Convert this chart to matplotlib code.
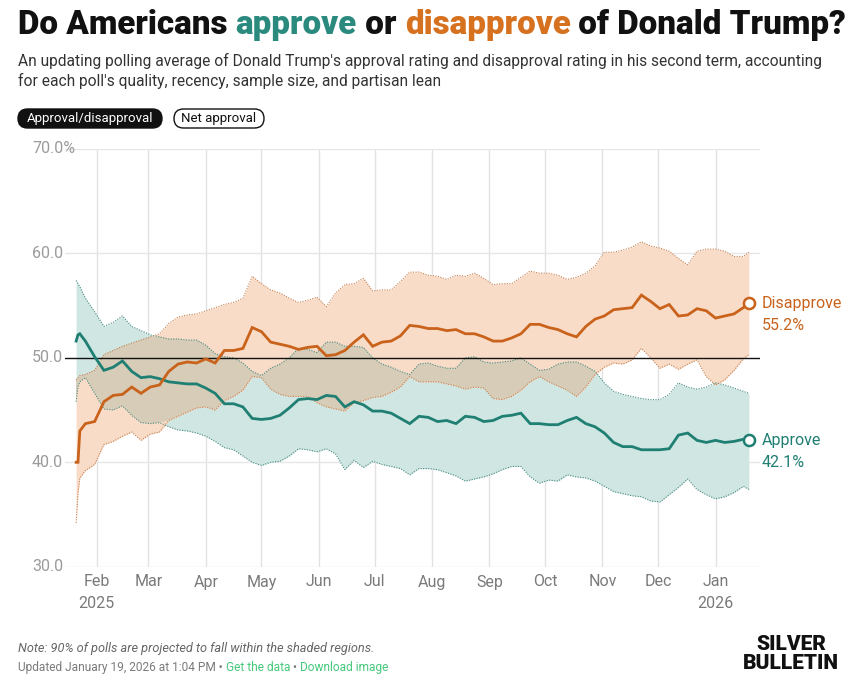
import matplotlib
matplotlib.use("Agg")
import matplotlib.pyplot as plt
import matplotlib.dates as mdates
import matplotlib.transforms as mtransforms
from matplotlib.patches import FancyBboxPatch
from datetime import datetime
import numpy as np

# polling average (every ~5 days)
dates = ["2025-01-21", "2025-01-22", "2025-01-23", "2025-01-26", "2025-01-31",
         "2025-02-05", "2025-02-10", "2025-02-15", "2025-02-20", "2025-02-25",
         "2025-03-02", "2025-03-07", "2025-03-12", "2025-03-17", "2025-03-22", "2025-03-27",
         "2025-04-01", "2025-04-06", "2025-04-11", "2025-04-16", "2025-04-21", "2025-04-26",
         "2025-05-01", "2025-05-06", "2025-05-11", "2025-05-16", "2025-05-21", "2025-05-26", "2025-05-31",
         "2025-06-05", "2025-06-10", "2025-06-15", "2025-06-20", "2025-06-25", "2025-06-30",
         "2025-07-05", "2025-07-10", "2025-07-15", "2025-07-20", "2025-07-25", "2025-07-30",
         "2025-08-04", "2025-08-09", "2025-08-14", "2025-08-19", "2025-08-24", "2025-08-29",
         "2025-09-03", "2025-09-08", "2025-09-13", "2025-09-18", "2025-09-23", "2025-09-28",
         "2025-10-03", "2025-10-08", "2025-10-13", "2025-10-18", "2025-10-23", "2025-10-28",
         "2025-11-02", "2025-11-07", "2025-11-12", "2025-11-17", "2025-11-22", "2025-11-27",
         "2025-12-02", "2025-12-07", "2025-12-12", "2025-12-17", "2025-12-22", "2025-12-27",
         "2026-01-01", "2026-01-06", "2026-01-11", "2026-01-16", "2026-01-19"]

disapprove = [40.0, 40.0, 43.0, 43.7, 43.9,
              45.8, 46.4, 46.5, 47.2, 46.6, 47.2, 47.4, 48.7, 49.4, 49.6, 49.5, 49.9, 49.5, 50.7, 50.7,
              50.9, 52.9, 52.5, 51.5, 51.3, 51.1,
              50.8, 51.0, 51.1, 50.2, 50.3, 50.7, 51.5, 52.2, 51.1, 51.5, 51.6, 52.1, 53.1, 53.0, 52.8,
              52.8, 52.6, 52.7, 52.3, 52.3, 52.0, 51.6, 51.6, 51.9, 52.3,
              53.2, 53.2, 52.9, 52.7, 52.3, 52.0, 53.0, 53.7, 54.0, 54.6, 54.7, 54.8, 56.0, 55.4, 54.7,
              55.1, 54.0, 54.1, 54.7, 54.5, 53.8, 54.0, 54.2, 54.8,
              55.2]
disapprove_hi = [47.9, 48.1, 48.3, 48.4, 48.8,
                 50.3, 50.7, 51.1, 51.4, 51.7, 52.0, 52.3, 53.3, 53.9, 54.1, 54.2, 54.5, 54.8, 55.1, 55.3,
                 55.7, 57.8, 57.1, 56.5, 56.2, 55.7,
                 55.3, 55.5, 55.8, 54.9, 56.2, 57.0, 57.1, 57.6, 56.4, 56.5, 56.5, 57.3, 58.2, 58.2, 57.9,
                 57.8, 57.5, 57.9, 57.8, 58.1, 57.6, 57.0, 57.1, 57.1, 57.7,
                 58.3, 58.1, 58.1, 57.9, 57.5, 57.7, 58.1, 58.8, 60.1, 60.1, 60.3, 60.6, 61.1, 60.7, 60.5,
                 60.2, 59.5, 58.9, 60.2, 60.4, 60.4, 60.2, 59.7, 59.7,
                 60.1]
disapprove_lo = [34.2, 37.0, 38.5, 39.2, 39.8,
                 41.7, 42.0, 42.5, 42.9, 42.1, 42.7, 42.9, 44.0, 44.4, 44.8, 45.2, 45.3, 45.0, 45.9, 46.3,
                 46.9, 48.2, 48.1, 47.0, 46.5, 46.3,
                 46.3, 46.3, 45.7, 45.3, 45.1, 44.9, 45.7, 45.9, 46.2, 46.3, 46.7, 47.2, 48.2, 47.7, 47.7,
                 47.7, 47.5, 47.3, 47.0, 47.2, 47.1, 46.1, 46.0, 46.3, 46.9,
                 47.7, 48.2, 47.7, 47.3, 46.9, 46.3, 47.2, 48.4, 49.1, 49.5, 49.4, 49.8, 50.9, 50.0, 49.0,
                 49.4, 48.9, 49.4, 49.8, 48.2, 47.4, 47.9, 48.8, 49.9,
                 50.3]

approve = [51.6, 52.2, 52.3, 51.6, 50.1,
           48.8, 49.1, 49.7, 48.7, 48.1, 48.2, 48.0, 47.7, 47.6, 47.5, 47.5, 47.1, 46.6, 45.6, 45.6,
           45.3, 44.2, 44.1, 44.2, 44.5, 45.2,
           46.0, 46.1, 46.0, 46.4, 46.3, 45.3, 45.8, 45.5, 44.9, 44.9, 44.7, 44.2, 43.7, 44.4, 44.3,
           43.9, 44.0, 43.7, 44.4, 44.3, 43.9, 44.0, 44.4, 44.5, 44.7,
           43.7, 43.7, 43.6, 43.6, 44.0, 44.3, 43.7, 43.4, 42.8, 41.9, 41.5, 41.5, 41.2, 41.2, 41.2,
           41.3, 42.6, 42.8, 42.1, 41.9, 42.1, 41.9, 42.0, 42.2,
           42.1]
approve_hi = [57.4, 57.1, 56.8, 55.7, 54.4,
              53.0, 53.4, 54.0, 53.0, 52.6, 52.2, 52.0, 51.8, 51.8, 51.7, 51.7, 51.2, 50.4, 50.1, 50.0,
              49.5, 48.7, 48.3, 49.0, 49.4, 50.0,
              50.9, 50.8, 50.5, 51.5, 51.5, 51.1, 51.1, 51.0, 50.0, 49.4, 49.1, 48.7, 48.4, 49.4, 49.5,
              49.2, 49.0, 49.0, 50.0, 50.1, 49.6, 49.5, 49.6, 49.7, 50.0,
              49.4, 48.8, 48.9, 49.4, 49.6, 49.6, 49.2, 48.7, 47.6, 46.8, 46.5, 46.3, 46.1, 46.0, 46.0,
              46.5, 47.6, 47.2, 47.0, 47.2, 47.6, 47.4, 47.1, 46.8,
              46.6]
approve_lo = [45.8, 47.2, 47.7, 48.1, 46.6,
              45.1, 45.0, 45.4, 44.5, 43.8, 43.7, 43.8, 43.4, 43.1, 43.0, 42.8, 42.5, 42.0, 41.4, 41.2,
              40.6, 40.0, 39.7, 40.0, 40.1, 40.6,
              41.3, 41.2, 41.0, 41.3, 40.8, 39.3, 40.2, 39.5, 40.1, 39.8, 39.6, 39.4, 38.8, 39.4, 39.4,
              39.3, 39.0, 38.7, 38.2, 38.4, 38.6, 38.9, 39.3, 39.6, 39.6,
              38.6, 38.0, 38.3, 38.2, 38.8, 38.6, 38.5, 38.2, 37.7, 37.2, 37.0, 36.8, 36.7, 36.3, 36.2,
              36.9, 37.6, 38.4, 37.4, 36.9, 36.5, 36.7, 37.1, 37.7,
              37.4]

month_ticks = ["2025-02-01", "2025-03-01", "2025-04-01", "2025-05-01", "2025-06-01", "2025-07-01",
               "2025-08-01", "2025-09-01", "2025-10-01", "2025-11-01", "2025-12-01", "2026-01-01"]
month_labels = ["Feb", "Mar", "Apr", "May", "Jun", "Jul", "Aug", "Sep", "Oct", "Nov", "Dec", "Jan"]
year_labels = {"2025-02-01": "2025", "2026-01-01": "2026"}
y_ticks = [30, 40, 50, 60, 70]

# colours
TEAL = "#1f7f73"
ORANGE = "#c9621b"
TEAL_FILL = "#cfe6e2"
ORANGE_FILL = "#f9dcc8"
BOTH_FILL = "#d6ccb7"
TEAL_EDGE = "#4a8c83"
ORANGE_EDGE = "#c58152"
GREEN = "#45c97b"

NARROW = ["Liberation Sans Narrow", "Roboto", "DejaVu Sans"]
BOLD = ["Roboto", "Liberation Sans", "DejaVu Sans"]

W, H = 860, 699
fig = plt.figure(figsize=(W / 100, H / 100), dpi=100)
fig.patch.set_facecolor("white")
px = mtransforms.Affine2D().scale(1 / W, 1 / H) + fig.transFigure
renderer = fig.canvas.get_renderer()

# plot area: x 65..760, y 148.8..566.8 (pixels from top)
ax = fig.add_axes([65 / W, 1 - 566.8 / H, 695 / W, 418 / H])
x = mdates.date2num([datetime.strptime(d, "%Y-%m-%d") for d in dates])
a_lo, a_hi = np.array(approve_lo), np.array(approve_hi)
d_lo, d_hi = np.array(disapprove_lo), np.array(disapprove_hi)

ax.fill_between(x, a_lo, a_hi, color=TEAL_FILL, lw=0, zorder=1)
ax.fill_between(x, d_lo, d_hi, color=ORANGE_FILL, lw=0, zorder=1)
both_lo = np.maximum(a_lo, d_lo)
both_hi = np.minimum(a_hi, d_hi)
ax.fill_between(x, both_lo, both_hi, where=both_hi > both_lo, interpolate=True,
                color=BOTH_FILL, lw=0, zorder=1)

dots = (0, (1, 1.3))
for arr, c in [(a_lo, TEAL_EDGE), (a_hi, TEAL_EDGE), (d_lo, ORANGE_EDGE), (d_hi, ORANGE_EDGE)]:
    ax.plot(x, arr, color=c, lw=0.8, ls=dots, zorder=2)

ax.plot(x, approve, color=TEAL, lw=2.0, zorder=4, solid_joinstyle="miter")
ax.plot(x, disapprove, color=ORANGE, lw=2.0, zorder=4, solid_joinstyle="miter")
ax.plot(x[-1], approve[-1], "o", ms=8, mfc="white", mec=TEAL, mew=1.8, zorder=5)
ax.plot(x[-1], disapprove[-1], "o", ms=8, mfc="white", mec=ORANGE, mew=1.8, zorder=5)

ax.set_xlim(datetime(2025, 1, 15), datetime(2026, 1, 25))
ax.set_ylim(30, 70)
for s in ax.spines.values():
    s.set_visible(False)
ax.set_xticks([])
ax.set_yticks([])
ax.patch.set_alpha(0)

for m in month_ticks:
    ax.axvline(datetime.strptime(m, "%Y-%m-%d"), color="#e2e2e2", lw=1.0, zorder=0)
for v in y_ticks:
    if v == 50:
        ax.axhline(v, color="#111111", lw=1.0, zorder=3)
    else:
        ax.axhline(v, color="#e6e6e6", lw=1.0, zorder=0)

# axis labels
ytr = mtransforms.blended_transform_factory(px, ax.transData)
for v in y_ticks:
    lab = f"{v:.1f}%" if v == 70 else f"{v:.1f}"
    ax.text(32, v, lab, transform=ytr, ha="left", va="center", fontsize=11.5,
            color="#9b9b9b", family=NARROW)
xtr = mtransforms.blended_transform_factory(ax.transData, px)
for m, lab in zip(month_ticks, month_labels):
    xm = datetime.strptime(m, "%Y-%m-%d")
    ax.text(xm, H - 582, lab, transform=xtr, ha="center", va="center", fontsize=11.5,
            color="#7a7a7a", family=NARROW)
    if m in year_labels:
        ax.text(xm, H - 604, year_labels[m], transform=xtr, ha="center", va="center",
                fontsize=11.5, color="#7a7a7a", family=NARROW)

# end labels
for val, name, c in [(disapprove[-1], "Disapprove", ORANGE), (approve[-1], "Approve", TEAL)]:
    ax.annotate(name, (x[-1], val), xytext=(13, 0), textcoords="offset pixels",
                ha="left", va="center", fontsize=11.5, color=c, family=NARROW)
    ax.annotate(f"{val:.1f}%", (x[-1], val), xytext=(13, -22), textcoords="offset pixels",
                ha="left", va="center", fontsize=11.5, color=c, family=NARROW)


def width_of(s, **kw):
    t = fig.text(0, 0, s, **kw)
    w = t.get_window_extent(renderer).width
    t.remove()
    return w


def fit(s, target, **kw):
    return 10 * target / width_of(s, fontsize=10, **kw)


def runs(x0, y0, parts, **kw):
    prefix = ""
    base = width_of("x", **kw)
    for s, c in parts:
        off = width_of(prefix + "x", **kw) - base if prefix else 0
        fig.text(x0 + off, H - y0, s, color=c, transform=px, va="baseline", **kw)
        prefix += s


# title
title_parts = [("Do Americans ", "#111111"), ("approve", "#2a8a7e"), (" or ", "#111111"),
               ("disapprove", "#d6711f"), (" of Donald Trump?", "#111111")]
tkw = dict(family=BOLD, weight="black")
tkw["fontsize"] = fit("".join(p[0] for p in title_parts), 825, **tkw)
runs(18, 34, title_parts, **tkw)

sub1 = ("An updating polling average of Donald Trump's approval rating and disapproval rating "
        "in his second term, accounting")
sub2 = "for each poll's quality, recency, sample size, and partisan lean"
skw = dict(family=NARROW)
skw["fontsize"] = fit(sub1, 804, **skw)
fig.text(18, H - 66, sub1, transform=px, va="baseline", color="#333333", **skw)
fig.text(18, H - 86, sub2, transform=px, va="baseline", color="#333333", **skw)

# toggle buttons
fig.patches.append(FancyBboxPatch((18, H - 128), 144, 19, boxstyle="round,pad=0,rounding_size=9.5",
                                  transform=px, fc="#111111", ec="#111111", lw=1))
fig.text(90, H - 118.5, "Approval/disapproval", transform=px, ha="center", va="center",
         color="white", fontsize=9.5, family=NARROW)
fig.patches.append(FancyBboxPatch((174, H - 128), 90, 19, boxstyle="round,pad=0,rounding_size=9.5",
                                  transform=px, fc="white", ec="#111111", lw=1))
fig.text(219, H - 118.5, "Net approval", transform=px, ha="center", va="center",
         color="#111111", fontsize=9.5, family=NARROW)

# footer
note = "Note: 90% of polls are projected to fall within the shaded regions."
nkw = dict(family=NARROW, style="italic")
nkw["fontsize"] = fit(note, 354, **nkw)
fig.text(18, H - 652, note, transform=px, va="baseline", color="#666666", **nkw)

upd_parts = [("Updated January 19, 2026 at 1:04 PM \u2022 ", "#7a7a7a"), ("Get the data", GREEN),
             (" \u2022 ", "#7a7a7a"), ("Download image", GREEN)]
ukw = dict(family=NARROW)
ukw["fontsize"] = fit("".join(p[0] for p in upd_parts), 372, **ukw)
runs(18, 671, upd_parts, **ukw)

fig.text(791, H - 654, "SILVER\nBULLETIN", transform=px, ha="center", va="center",
         fontsize=15, weight="black", family=["Roboto", "Liberation Sans"],
         color="#111111", linespacing=0.95)

fig.savefig("out.png", dpi=100, facecolor="white")
